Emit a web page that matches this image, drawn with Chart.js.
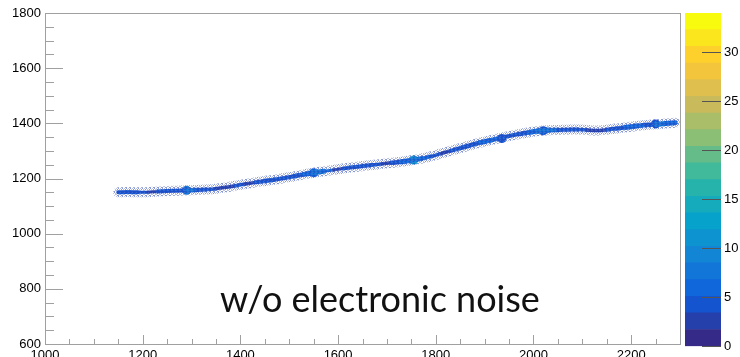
<!DOCTYPE html>
<html>
<head>
<meta charset="utf-8">
<script src="https://cdn.jsdelivr.net/npm/chart.js@4.4.1/dist/chart.umd.min.js"></script>
<style>
  html, body { margin: 0; padding: 0; background: #fff; overflow: hidden; }
  #wrap { position: relative; width: 740px; height: 357px; }
  #main { position: absolute; left: 0; top: 0; }
  #pal { position: absolute; left: 682px; top: 0; }
</style>
</head>
<body>
<div id="wrap">
  <canvas id="main" width="740" height="357"></canvas>
  <canvas id="pal" width="58" height="357"></canvas>
</div>
<script>
'use strict';

// band centre, every 20 units in x
var bandX = [1150, 1170, 1190, 1210, 1230, 1250, 1270, 1290, 1310, 1330,
             1350, 1370, 1390, 1410, 1430, 1450, 1470, 1490, 1510, 1530,
             1550, 1570, 1590, 1610, 1630, 1650, 1670, 1690, 1710, 1730,
             1750, 1770, 1790, 1810, 1830, 1850, 1870, 1890, 1910, 1930,
             1950, 1970, 1990, 2010, 2030, 2050, 2070, 2090, 2110, 2130,
             2150, 2170, 2190, 2210, 2230, 2250, 2270, 2290];
var bandY = [1150, 1151, 1150, 1150, 1153, 1155, 1156, 1157, 1158, 1160,
             1163, 1168, 1174, 1180, 1186, 1191, 1196, 1202, 1208, 1215,
             1221, 1226, 1231, 1236, 1241, 1245, 1249, 1253, 1257, 1261,
             1266, 1272, 1280, 1290, 1300, 1310, 1320, 1330, 1338, 1346,
             1354, 1361, 1367, 1372, 1375, 1376, 1377, 1378, 1376, 1374,
             1377, 1381, 1386, 1390, 1394, 1397, 1399, 1402];
var bandCount = [4, 5, 4, 2, 4, 5, 4, 7, 5, 4,
                 3, 3, 4, 3, 4, 5, 5, 4, 5, 6,
                 7, 6, 2, 4, 4, 4, 4, 3, 5, 6,
                 7, 6, 4, 3, 4, 5, 5, 6, 6, 5,
                 4, 5, 6, 7, 7, 5, 4, 4, 3, 3,
                 4, 5, 6, 6, 5, 7, 6, 6];

// brighter spots
var hotX = [1290, 1550, 1755, 1935, 2020, 2250];
var hotY = [1157, 1221, 1267, 1345, 1373, 1398];
var hotCount = [12, 9, 22, 7, 8, 8];

var xTicks = [1000, 1200, 1400, 1600, 1800, 2000, 2200];
var yTicks = [600, 800, 1000, 1200, 1400, 1600, 1800];
var zTicks = [0, 5, 10, 15, 20, 25, 30];
var zMax = 34;
var nLevels = 20;

// ROOT kBird palette
var birdStops = [[53, 42, 135], [15, 92, 221], [20, 129, 214], [6, 164, 202], [46, 183, 164],
                 [135, 191, 119], [209, 187, 89], [254, 200, 50], [249, 251, 14]];

function bird(f) {
    var p = Math.max(0, Math.min(1, f)) * (birdStops.length - 1);
    var i = Math.min(birdStops.length - 2, Math.floor(p));
    var t = p - i;
    var a = birdStops[i], b = birdStops[i + 1];
    return 'rgb(' + Math.round(a[0] + (b[0] - a[0]) * t) + ',' +
        Math.round(a[1] + (b[1] - a[1]) * t) + ',' +
        Math.round(a[2] + (b[2] - a[2]) * t) + ')';
}

function levelColor(z) {
    var lvl = Math.min(nLevels - 1, Math.floor(z / zMax * nLevels));
    return bird(lvl / (nLevels - 1));
}

// speckle pattern for the sparse edge of the band
function speckle() {
    var c = document.createElement('canvas');
    c.width = 4; c.height = 4;
    var g = c.getContext('2d');
    var dots = [[0, 0], [2, 0], [3, 1], [1, 1], [0, 2], [2, 3], [3, 2], [1, 3]];
    dots.forEach(function (d, i) {
        g.fillStyle = i % 2 ? 'rgba(40,70,190,0.55)' : 'rgba(100,120,200,0.45)';
        g.fillRect(d[0], d[1], 1, 1);
    });
    return g.createPattern(c, 'repeat');
}

var bandPts = bandX.map(function (x, i) { return { x: x, y: bandY[i] }; });
var hotOuter = hotX.map(function (x, i) { return { x: x, y: hotY[i], r: 4.5 }; });
var hotInner = hotX.map(function (x, i) { return { x: x, y: hotY[i], r: 2.5 }; });

var axisFont = { family: 'Liberation Sans', size: 13 };
function plain(v) { return String(v); }

var rootFrame = {
    id: 'rootFrame',
    afterDraw: function (chart) {
        var ctx = chart.ctx, a = chart.chartArea;
        var xs = chart.scales.x, ys = chart.scales.y;
        ctx.save();
        ctx.strokeStyle = '#a0a0a0';
        ctx.lineWidth = 1;
        ctx.strokeRect(a.left + 0.5, a.top + 0.5, a.right - a.left - 1, a.bottom - a.top);
        ctx.beginPath();
        for (var v = ys.min; v <= ys.max; v += 50) {
            var py = Math.round(ys.getPixelForValue(v)) + 0.5;
            ctx.moveTo(a.left, py);
            ctx.lineTo(a.left + (v % 200 === 0 ? 18 : 9), py);
        }
        for (var u = xs.min; u <= xs.max; u += 50) {
            var px = Math.round(xs.getPixelForValue(u)) + 0.5;
            ctx.moveTo(px, a.bottom);
            ctx.lineTo(px, a.bottom - (u % 200 === 0 ? 9 : 5));
        }
        ctx.stroke();
        ctx.fillStyle = '#111';
        ctx.font = '36px Lato';
        ctx.textBaseline = 'alphabetic';
        ctx.fillText('w/o electronic noise', 220, 312);
        ctx.restore();
    }
};

new Chart(document.getElementById('main').getContext('2d'), {
    type: 'scatter',
    data: {
        datasets: [{
            type: 'line',
            data: bandPts,
            borderColor: speckle(),
            borderWidth: 10,
            borderCapStyle: 'round',
            tension: 0.3,
            pointRadius: 0
        }, {
            type: 'line',
            data: bandPts,
            borderColor: 'rgb(21,84,208)',
            borderWidth: 4,
            borderCapStyle: 'round',
            tension: 0.3,
            pointRadius: 0,
            segment: {
                borderColor: function (s) { return levelColor(bandCount[s.p0DataIndex]); },
                borderWidth: function (s) {
                    var c = Math.min(bandCount[s.p0DataIndex], bandCount[s.p1DataIndex]);
                    return 2 + Math.min(c, 7) * 0.5;
                }
            }
        }, {
            type: 'bubble',
            data: hotOuter,
            backgroundColor: hotCount.map(function (c) { return levelColor(c * 0.6); }),
            borderWidth: 0
        }, {
            type: 'bubble',
            data: hotInner,
            backgroundColor: hotCount.map(function (c) { return levelColor(c); }),
            borderWidth: 0
        }]
    },
    options: {
        responsive: false,
        animation: false,
        events: [],
        layout: { padding: { top: 13, right: 59, left: 0, bottom: 0 } },
        plugins: { legend: { display: false }, tooltip: { enabled: false } },
        scales: {
            x: {
                type: 'linear', min: 1000, max: 2302,
                grid: { display: false, drawTicks: false },
                border: { display: false },
                afterBuildTicks: function (s) { s.ticks = xTicks.map(function (v) { return { value: v }; }); },
                afterFit: function (s) { s.height = 13; },
                ticks: { color: '#000', font: axisFont, padding: 4, maxRotation: 0, callback: plain }
            },
            y: {
                type: 'linear', min: 600, max: 1800,
                grid: { display: false, drawTicks: false },
                border: { display: false },
                afterBuildTicks: function (s) { s.ticks = yTicks.map(function (v) { return { value: v }; }); },
                afterFit: function (s) { s.width = 45; },
                ticks: { color: '#000', font: axisFont, padding: 4, callback: plain }
            }
        }
    },
    plugins: [rootFrame]
});

// colour palette bar
var levelSets = [];
for (var i = 0; i < nLevels; i++) {
    levelSets.push({
        data: [zMax / nLevels],
        backgroundColor: bird(i / (nLevels - 1)),
        borderWidth: 0,
        barPercentage: 1,
        categoryPercentage: 1
    });
}

var palTicks = {
    id: 'palTicks',
    afterDraw: function (chart) {
        var ctx = chart.ctx, a = chart.chartArea, zs = chart.scales.y;
        ctx.save();
        ctx.strokeStyle = '#555';
        ctx.lineWidth = 1;
        ctx.beginPath();
        zTicks.forEach(function (v) {
            var py = Math.round(zs.getPixelForValue(v)) + 0.5;
            ctx.moveTo(a.right, py);
            ctx.lineTo(a.right - 19, py);
        });
        ctx.stroke();
        ctx.restore();
    }
};

new Chart(document.getElementById('pal').getContext('2d'), {
    type: 'bar',
    data: { labels: [''], datasets: levelSets },
    options: {
        responsive: false,
        animation: false,
        events: [],
        layout: { padding: { top: 13, bottom: 0, left: 3, right: 0 } },
        plugins: { legend: { display: false }, tooltip: { enabled: false } },
        scales: {
            x: { stacked: true, display: false },
            y: {
                stacked: true, position: 'right', min: 0, max: zMax,
                grid: { display: false, drawTicks: false },
                border: { display: false },
                afterBuildTicks: function (s) { s.ticks = zTicks.map(function (v) { return { value: v }; }); },
                afterFit: function (s) { s.width = 19; },
                ticks: { color: '#000', font: axisFont, padding: 3, callback: plain }
            }
        }
    },
    plugins: [palTicks]
});
</script>
</body>
</html>
